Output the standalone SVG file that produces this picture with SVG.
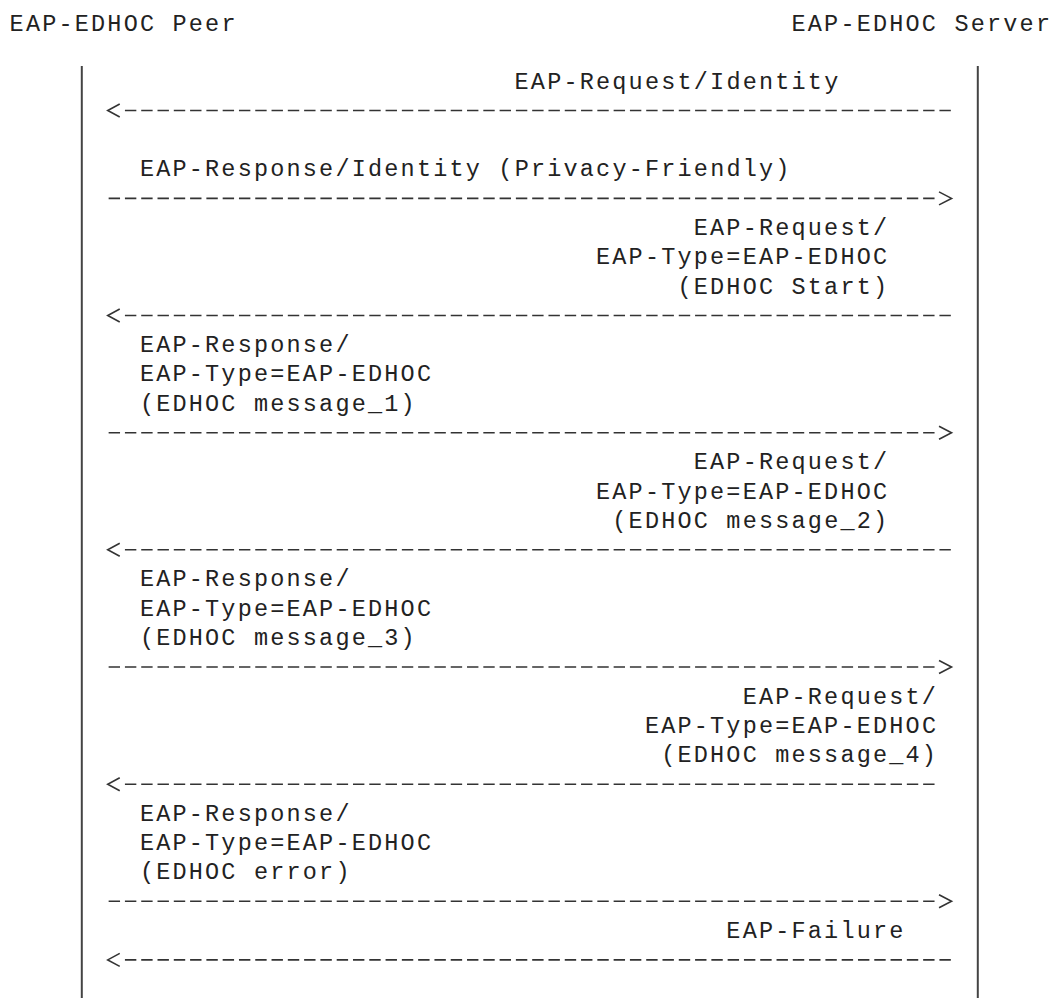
<svg xmlns="http://www.w3.org/2000/svg" xmlns:xlink="http://www.w3.org/1999/xlink" width="1051" height="998" viewBox="0 0 1051 998">
<style>
text{font-family:"Liberation Mono","DejaVu Sans Mono",monospace;font-size:23.5px;letter-spacing:2.19px;fill:#222}
.life{stroke:#444;stroke-width:2}
.dash{stroke:#333;stroke-width:1.6;stroke-dasharray:11.4 4.89;fill:none}
.head{fill:none;stroke:#333;stroke-width:1.6;stroke-linejoin:miter}
</style>
<defs>
<polyline id="hl" class="head" points="13.5,-6.5 1.5,0 13.5,6.5"/>
<polyline id="hr" class="head" points="2,-6.5 14.5,0 2,6.5"/>
</defs>
<rect width="1051" height="998" fill="#fff"/>
<g id="peer">
<text x="9.6" y="31">EAP-EDHOC Peer</text>
<line class="life" x1="81.8" y1="66" x2="81.8" y2="998"/>
</g>
<g id="server">
<text x="791.52" y="31">EAP-EDHOC Server</text>
<line class="life" x1="977.8" y1="66" x2="977.8" y2="998"/>
</g>
<g id="msg1"><text x="514.59" y="88.5">EAP-Request/Identity</text></g>
<g id="msg2"><text x="139.92" y="176.37">EAP-Response/Identity (Privacy-Friendly)</text></g>
<g id="msg3">
<text x="693.78" y="234.95">EAP-Request/</text>
<text x="596.04" y="264.24">EAP-Type=EAP-EDHOC</text>
<text x="677.49" y="293.53">(EDHOC Start)</text>
</g>
<g id="msg4">
<text x="139.92" y="352.11">EAP-Response/</text>
<text x="139.92" y="381.4">EAP-Type=EAP-EDHOC</text>
<text x="139.92" y="410.69">(EDHOC message_1)</text>
</g>
<g id="msg5">
<text x="693.78" y="469.27">EAP-Request/</text>
<text x="596.04" y="498.56">EAP-Type=EAP-EDHOC</text>
<text x="612.33" y="527.85">(EDHOC message_2)</text>
</g>
<g id="msg6">
<text x="139.92" y="586.43">EAP-Response/</text>
<text x="139.92" y="615.72">EAP-Type=EAP-EDHOC</text>
<text x="139.92" y="645.01">(EDHOC message_3)</text>
</g>
<g id="msg7">
<text x="742.65" y="703.59">EAP-Request/</text>
<text x="644.91" y="732.88">EAP-Type=EAP-EDHOC</text>
<text x="661.2" y="762.17">(EDHOC message_4)</text>
</g>
<g id="msg8">
<text x="139.92" y="820.75">EAP-Response/</text>
<text x="139.92" y="850.04">EAP-Type=EAP-EDHOC</text>
<text x="139.92" y="879.33">(EDHOC error)</text>
</g>
<g id="msg9"><text x="726.36" y="937.91">EAP-Failure</text></g>
<g id="connectors">
<line class="dash" x1="124.93" y1="110.5" x2="950.83" y2="110.5"/><use href="#hl" xlink:href="#hl" x="106.24" y="110.5"/>
<line class="dash" x1="108.64" y1="198.4" x2="934.54" y2="198.4"/><use href="#hr" xlink:href="#hr" x="937.03" y="198.4"/>
<line class="dash" x1="124.93" y1="315.5" x2="950.83" y2="315.5"/><use href="#hl" xlink:href="#hl" x="106.24" y="315.5"/>
<line class="dash" x1="108.64" y1="432.7" x2="934.54" y2="432.7"/><use href="#hr" xlink:href="#hr" x="937.03" y="432.7"/>
<line class="dash" x1="124.93" y1="549.8" x2="950.83" y2="549.8"/><use href="#hl" xlink:href="#hl" x="106.24" y="549.8"/>
<line class="dash" x1="108.64" y1="667" x2="934.54" y2="667"/><use href="#hr" xlink:href="#hr" x="937.03" y="667"/>
<line class="dash" x1="124.93" y1="784.2" x2="934.54" y2="784.2"/><use href="#hl" xlink:href="#hl" x="106.24" y="784.2"/>
<line class="dash" x1="108.64" y1="901.3" x2="934.54" y2="901.3"/><use href="#hr" xlink:href="#hr" x="937.03" y="901.3"/>
<line class="dash" x1="124.93" y1="959.9" x2="950.83" y2="959.9"/><use href="#hl" xlink:href="#hl" x="106.24" y="959.9"/>
</g>
</svg>
